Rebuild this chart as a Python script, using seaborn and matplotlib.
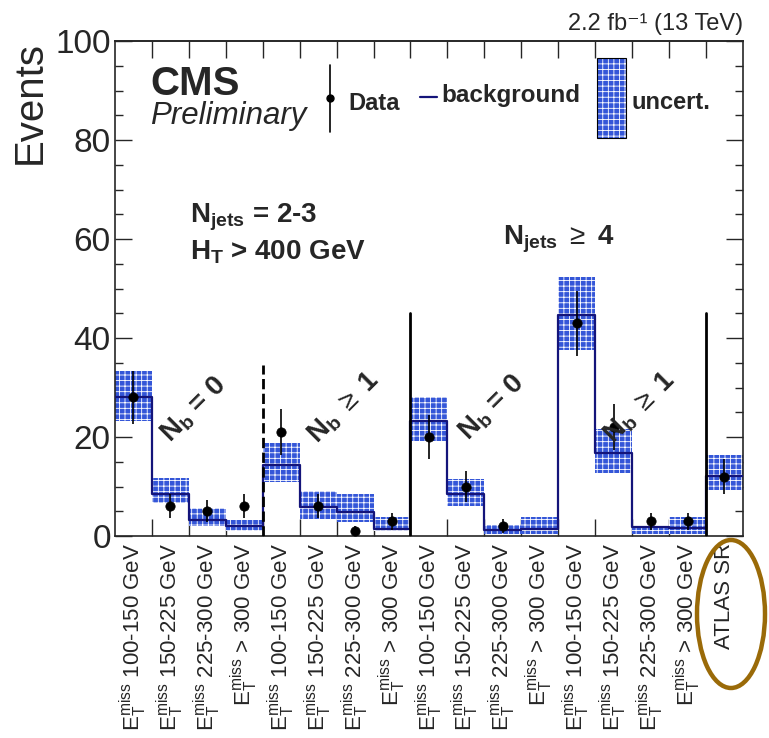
import numpy as np
import pandas as pd
import matplotlib
matplotlib.use("Agg")
import matplotlib.pyplot as plt
from matplotlib.patches import Ellipse, Rectangle
import seaborn as sns

# ---------------- data ----------------
bin_labels = [
    r"$\mathrm{E_{T}^{miss}}$ 100-150 GeV",
    r"$\mathrm{E_{T}^{miss}}$ 150-225 GeV",
    r"$\mathrm{E_{T}^{miss}}$ 225-300 GeV",
    r"$\mathrm{E_{T}^{miss}}$ > 300 GeV",
    r"$\mathrm{E_{T}^{miss}}$ 100-150 GeV",
    r"$\mathrm{E_{T}^{miss}}$ 150-225 GeV",
    r"$\mathrm{E_{T}^{miss}}$ 225-300 GeV",
    r"$\mathrm{E_{T}^{miss}}$ > 300 GeV",
    r"$\mathrm{E_{T}^{miss}}$ 100-150 GeV",
    r"$\mathrm{E_{T}^{miss}}$ 150-225 GeV",
    r"$\mathrm{E_{T}^{miss}}$ 225-300 GeV",
    r"$\mathrm{E_{T}^{miss}}$ > 300 GeV",
    r"$\mathrm{E_{T}^{miss}}$ 100-150 GeV",
    r"$\mathrm{E_{T}^{miss}}$ 150-225 GeV",
    r"$\mathrm{E_{T}^{miss}}$ 225-300 GeV",
    r"$\mathrm{E_{T}^{miss}}$ > 300 GeV",
    "ATLAS SR",
]
background = [28.1, 8.5, 3.2, 2.1, 14.3, 5.9, 4.9, 1.5,
              23.2, 8.4, 1.3, 1.5, 44.6, 16.7, 1.9, 1.6, 12.1]
uncert_hi = [33.3, 11.8, 5.7, 3.2, 18.8, 9.1, 8.4, 3.9,
             28.1, 11.6, 2.2, 3.9, 52.4, 21.7, 2.1, 3.9, 16.3]
uncert_lo = [23.2, 6.6, 2.1, 1.1, 11.0, 3.4, 2.8, 1.0,
             19.2, 6.0, 0.4, 0.4, 37.6, 12.8, 0.4, 0.4, 9.3]
data_obs = [28, 6, 5, 6, 21, 6, 1, 3,
            20, 10, 2, np.nan, 43, 22, 3, 3, 12]

# separators between signal-region groups: (bin edge, top, style)
sep_edges = [4, 8, 16]
sep_tops = [34.5, 45, 45]
sep_styles = ["--", "-", "-"]

n = len(bin_labels)
edges = np.arange(n + 1)
centers = edges[:-1] + 0.5
df = pd.DataFrame({"x": centers, "bkg": background, "hi": uncert_hi,
                   "lo": uncert_lo, "data": data_obs})
df["err"] = np.sqrt(df["data"])

# ---------------- style ----------------
sns.set_style("ticks")
plt.rcParams["font.family"] = ["Liberation Sans", "DejaVu Sans"]
plt.rcParams["mathtext.fontset"] = "custom"
plt.rcParams["mathtext.rm"] = "Liberation Sans"
plt.rcParams["mathtext.it"] = "Liberation Sans:italic"
plt.rcParams["mathtext.bf"] = "Liberation Sans:bold"
plt.rcParams["hatch.linewidth"] = 0.6

band_color = "#3456d8"
bkg_color = "#14147a"

fig = plt.figure(figsize=(7.69, 7.38), dpi=100)
ax = fig.add_axes([0.1495, 0.2737, 0.8166, 0.6707])

# uncertainty band
ax.bar(df["x"], df["hi"] - df["lo"], bottom=df["lo"], width=1.0,
       color=band_color, edgecolor="white", hatch="+++", linewidth=0,
       zorder=2)

# background histogram (step)
sns.histplot(data=df, x="x", weights="bkg", bins=[float(e) for e in edges],
             element="step", fill=False, color=bkg_color, linewidth=1.6,
             ax=ax, zorder=3)

# separators
for e, t, s in zip(sep_edges, sep_tops, sep_styles):
    ax.plot([e, e], [0, t], color="black", linestyle=s, linewidth=2.0,
            zorder=4)

# data points
ax.errorbar(df["x"], df["data"], yerr=df["err"], fmt="none",
            ecolor="black", elinewidth=1.2, zorder=5)
sns.scatterplot(x="x", y="data", data=df, color="black", s=45,
                edgecolor="black", ax=ax, zorder=6, legend=False)

# axes
ax.set_xlim(0, n)
ax.set_ylim(0, 100)
ax.set_xlabel("")
ax.set_ylabel("Events", fontsize=29, loc="top")
ax.yaxis.set_label_coords(-0.105, 1.0)

ax.set_xticks(centers)
ax.set_xticklabels(bin_labels, rotation=90, fontsize=16, va="top",
                   ha="center")
ax.set_xticks(edges[1:-1], minor=True)
ax.tick_params(axis="x", which="major", length=0, pad=5)
ax.tick_params(axis="x", which="minor", direction="in", length=12,
               width=1.0, bottom=True)

ax.set_yticks(np.arange(0, 101, 20))
ax.set_yticks(np.arange(0, 101, 5), minor=True)
ax.tick_params(axis="y", which="major", direction="in", length=12,
               width=1.0, labelsize=24, right=True, pad=3)
ax.tick_params(axis="y", which="minor", direction="in", length=6,
               width=1.0, right=True)

top = ax.secondary_xaxis("top")
top.set_xticks(edges[1:-1])
top.tick_params(direction="in", length=12, width=1.0, labeltop=False)
top.spines["top"].set_linewidth(1.2)

for sp in ax.spines.values():
    sp.set_linewidth(1.2)
    sp.set_visible(True)

# texts
yt = ax.get_yaxis_transform()
ax.text(1.0, 1.022, "2.2 fb\u207b\u00b9 (13 TeV)", transform=ax.transAxes,
        ha="right", va="baseline", fontsize=17)
ax.text(0.056, 89.0, "CMS", transform=yt,
        fontsize=29, fontweight="bold", va="baseline")
ax.text(0.056, 83.2, "Preliminary", transform=yt,
        fontsize=22.5, style="italic", va="baseline")

ax.text(0.119, 63.4, r"$\mathbf{N_{jets}}$ = 2-3", transform=yt,
        fontsize=20, fontweight="bold", va="baseline")
ax.text(0.119, 55.8, r"$\mathbf{H_{T}}$ > 400 GeV", transform=yt,
        fontsize=20, fontweight="bold", va="baseline")
ax.text(0.618, 58.8, r"$\mathbf{N_{jets}}$ $\geq$ 4", transform=yt,
        fontsize=20, fontweight="bold", va="baseline")

nb_pos = [(2.15, 25.5), (6.2, 26.0), (10.2, 26.0), (14.2, 26.0)]
nb_txt = [r"$\mathbf{N_{b}}$ = 0", r"$\mathbf{N_{b}}$ $\geq$ 1",
          r"$\mathbf{N_{b}}$ = 0", r"$\mathbf{N_{b}}$ $\geq$ 1"]
for (xx, yy), t in zip(nb_pos, nb_txt):
    ax.text(xx, yy, t, rotation=45, fontsize=20, fontweight="bold",
            ha="center", va="center", zorder=7)

# legend (manual, ROOT style)
ax.plot([0.342, 0.342], [81.6, 95.2], color="black", lw=1.2,
        transform=yt, clip_on=False)
ax.plot([0.342], [88.5], "o", color="black", ms=5, transform=yt)
ax.text(0.371, 87.4, "Data", transform=yt, fontsize=17,
        fontweight="bold", va="center")
ax.plot([0.486, 0.513], [88.7, 88.7], color=bkg_color, lw=1.6,
        transform=yt)
ax.text(0.519, 89.0, "background", transform=yt, fontsize=17.5,
        fontweight="bold", va="center")
ax.add_patch(Rectangle((0.768, 80.4), 0.046, 16.2, transform=yt,
                       facecolor=band_color, edgecolor="white",
                       hatch="+++", lw=0, zorder=3))
ax.add_patch(Rectangle((0.768, 80.4), 0.046, 16.2, transform=yt,
                       facecolor="none", edgecolor="black", lw=0.8,
                       zorder=4))
ax.text(0.823, 87.5, "uncert.", transform=yt, fontsize=17,
        fontweight="bold", va="center")

# highlight ellipse around ATLAS SR label
fig.add_artist(Ellipse((731 / 769, 1 - 614 / 738), 68 / 769, 148 / 738,
                       transform=fig.transFigure, fill=False,
                       edgecolor="#9a6a08", linewidth=3.2))

fig.savefig("out.png", dpi=100)
